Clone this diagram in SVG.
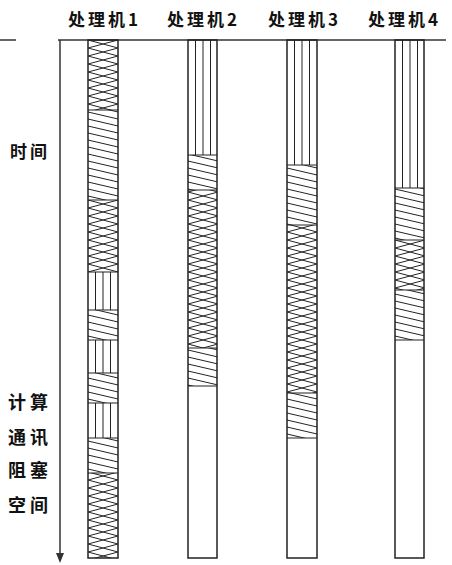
<svg xmlns="http://www.w3.org/2000/svg" width="452" height="565" viewBox="0 0 452 565">
<style>
.t{font-family:"Noto Sans CJK SC","Noto Sans",sans-serif;font-weight:bold;fill:#111}
.h{font-size:17px;letter-spacing:3px}
.l{font-size:18px;letter-spacing:4px}
.box{fill:none;stroke:#222;stroke-width:1.5}
.sep{stroke:#222;stroke-width:1.2}
.ax{stroke:#333;stroke-width:1.5;fill:none}
</style>
<defs>
<pattern id="pv" patternUnits="userSpaceOnUse" width="30" height="10">
<path d="M7.5 0V10M15 0V10M22.5 0V10" stroke="#222" stroke-width="1"/>
</pattern>
<pattern id="pd" patternUnits="userSpaceOnUse" width="30" height="7">
<path d="M-1 -0.23L31 7.23M-1 6.77L31 14.23M-1 -7.23L31 0.23" stroke="#222" stroke-width="1"/>
</pattern>
<pattern id="px" patternUnits="userSpaceOnUse" width="30" height="8">
<path d="M-1 -0.27L31 8.27M-1 8.27L31 -0.27" stroke="#222" stroke-width="1"/>
</pattern>
</defs>
<rect width="452" height="565" fill="#fff"/>

<g id="headers">
<text class="t h" x="68" y="26">处理机1</text>
<text class="t h" x="167" y="26">处理机2</text>
<text class="t h" x="268" y="26">处理机3</text>
<text class="t h" x="368" y="26">处理机4</text>
</g>

<g id="axis-labels">
<text class="t h" x="10" y="158">时间</text>
</g>

<g id="legend">
<text class="t l" x="8" y="409">计算</text>
<text class="t l" x="8" y="444">通讯</text>
<text class="t l" x="8" y="477">阻塞</text>
<text class="t l" x="8" y="512">空间</text>
</g>

<g id="connectors">
<line class="ax" x1="58" y1="40" x2="446" y2="40"/>
<line class="ax" x1="0" y1="40" x2="16" y2="40" stroke-width="1"/>
<line class="ax" x1="60" y1="40" x2="60" y2="555"/>
<polygon points="56,553 64,553 60,563" fill="#333"/>
</g>

<g id="proc1" transform="translate(88,0)">
<rect x="0" y="40" width="30" height="70" fill="url(#px)"/>
<rect x="0" y="110" width="30" height="90" fill="url(#pd)"/>
<rect x="0" y="200" width="30" height="72" fill="url(#px)"/>
<rect x="0" y="272" width="30" height="38" fill="url(#pv)"/>
<rect x="0" y="310" width="30" height="30" fill="url(#pd)"/>
<rect x="0" y="340" width="30" height="33" fill="url(#pv)"/>
<rect x="0" y="373" width="30" height="30" fill="url(#pd)"/>
<rect x="0" y="403" width="30" height="35" fill="url(#pv)"/>
<rect x="0" y="438" width="30" height="35" fill="url(#pd)"/>
<rect x="0" y="473" width="30" height="85" fill="url(#px)"/>
<path class="sep" d="M0 110H30M0 200H30M0 272H30M0 310H30M0 340H30M0 373H30M0 403H30M0 438H30M0 473H30"/>
<rect class="box" x="0" y="40" width="30" height="518"/>
</g>

<g id="proc2" transform="translate(188,0)">
<rect x="0" y="40" width="29" height="115" fill="url(#pv)"/>
<rect x="0" y="155" width="29" height="35" fill="url(#pd)"/>
<rect x="0" y="190" width="29" height="158" fill="url(#px)"/>
<rect x="0" y="348" width="29" height="38" fill="url(#pd)"/>
<path class="sep" d="M0 155H29M0 190H29M0 348H29M0 386H29"/>
<rect class="box" x="0" y="40" width="29" height="518"/>
</g>

<g id="proc3" transform="translate(287,0)">
<rect x="0" y="40" width="30" height="125" fill="url(#pv)"/>
<rect x="0" y="165" width="30" height="60" fill="url(#pd)"/>
<rect x="0" y="225" width="30" height="168" fill="url(#px)"/>
<rect x="0" y="393" width="30" height="45" fill="url(#pd)"/>
<path class="sep" d="M0 165H30M0 225H30M0 393H30M0 438H30"/>
<rect class="box" x="0" y="40" width="30" height="518"/>
</g>

<g id="proc4" transform="translate(395,0)">
<rect x="0" y="40" width="29" height="148" fill="url(#pv)"/>
<rect x="0" y="188" width="29" height="52" fill="url(#pd)"/>
<rect x="0" y="240" width="29" height="50" fill="url(#px)"/>
<rect x="0" y="290" width="29" height="50" fill="url(#pd)"/>
<path class="sep" d="M0 188H29M0 240H29M0 290H29M0 340H29"/>
<rect class="box" x="0" y="40" width="29" height="518"/>
</g>
</svg>
